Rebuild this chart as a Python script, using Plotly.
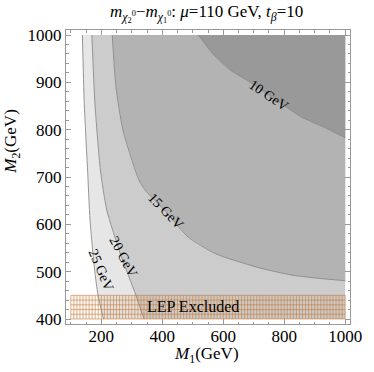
import numpy as np
import plotly.graph_objects as go

# ---- data (M1, M2 in GeV) ----
c25_m1 = [138, 144, 155, 163, 178, 189, 207]
c25_m2 = [1000, 856, 715, 609, 504, 451, 400]
c20_m1 = [169, 179, 197, 218, 264, 313, 340]
c20_m2 = [1000, 856, 715, 630, 535, 451, 400]
c15_m1 = [236, 248, 271, 323, 343, 413, 485, 571, 612, 719, 823, 927, 1000]
c15_m2 = [1000, 891, 799, 694, 673, 626, 573, 539, 529, 508, 493, 485, 481]
c10_m1 = [518, 565, 623, 686, 750, 813, 855, 928, 1000]
c10_m2 = [1000, 961, 926, 901, 873, 845, 827, 806, 783]

levels = ["25 GeV", "20 GeV", "15 GeV", "10 GeV"]
label_m1 = [198, 271, 413, 750]
label_m2 = [504, 531, 628, 873]
label_angle = [67, 62, 46, 34]

x_ticks = [200, 400, 600, 800, 1000]
y_ticks = [400, 500, 600, 700, 800, 900, 1000]

lep_m1 = [100, 1000]
lep_m2 = [400, 450]
lep_mesh = 10

M1_RANGE = [100, 1000]
M2_RANGE = [400, 1000]

curves = [(c25_m1, c25_m2), (c20_m1, c20_m2), (c15_m1, c15_m2), (c10_m1, c10_m2)]
fills = ["#e6e6e6", "#cccccc", "#b3b3b3", "#999999"]

SERIF = "Liberation Serif"
fig = go.Figure()

for (m1, m2), col in zip(curves, fills):
    px = list(m1) + [M1_RANGE[1], M1_RANGE[1]]
    py = list(m2) + [min(m2), M2_RANGE[1]]
    fig.add_trace(go.Scatter(x=px, y=py, fill="toself", fillcolor=col,
                             mode="none", hoverinfo="skip", showlegend=False))

for m1, m2 in curves:
    fig.add_trace(go.Scatter(x=m1, y=m2, mode="lines",
                             line=dict(color="#8a8a8a", width=0.9, shape="spline", smoothing=0.6),
                             hoverinfo="skip", showlegend=False))

# LEP band
bx = [lep_m1[0], lep_m1[1], lep_m1[1], lep_m1[0], lep_m1[0]]
by = [lep_m2[0], lep_m2[0], lep_m2[1], lep_m2[1], lep_m2[0]]
fig.add_trace(go.Scatter(x=bx, y=by, fill="toself", fillcolor="rgba(235,175,125,0.10)",
                         mode="none", hoverinfo="skip", showlegend=False))
gx, gy = [], []
for v in np.arange(lep_m1[0], lep_m1[1] + 0.1, lep_mesh):
    gx += [v, v, None]
    gy += [lep_m2[0], lep_m2[1], None]
for h in np.arange(lep_m2[0], lep_m2[1] + 0.1, lep_mesh):
    gx += [lep_m1[0], lep_m1[1], None]
    gy += [h, h, None]
fig.add_trace(go.Scatter(x=gx, y=gy, mode="lines",
                         line=dict(color="rgba(190,115,50,0.75)", width=0.7),
                         hoverinfo="skip", showlegend=False))

annotations = []
for t, x, y, a in zip(levels, label_m1, label_m2, label_angle):
    annotations.append(dict(x=x, y=y, xref="x", yref="y", text=t, showarrow=False,
                            xanchor="center", yanchor="middle",
                            textangle=a, font=dict(family=SERIF, size=14, color="black")))
annotations.append(dict(x=500, y=427, xref="x", yref="y", text="LEP Excluded", showarrow=False,
                        xanchor="center", yanchor="middle",
                        font=dict(family=SERIF, size=16, color="black")))
annotations.append(dict(x=0.495, y=1.055, xref="paper", yref="paper", showarrow=False,
                        xanchor="center", yanchor="middle",
                        text="<i>m</i><sub><i>χ</i><sub>2</sub><sup>0</sup></sub>−<i>m</i><sub><i>χ</i><sub>1</sub><sup>0</sup></sub>: <i>μ</i>=110 GeV, <i>t</i><sub><i>β</i></sub>=10",
                        font=dict(family=SERIF, size=17, color="black")))
annotations.append(dict(x=0.495, y=-0.106, xref="paper", yref="paper", showarrow=False,
                        xanchor="center", yanchor="middle",
                        text="<i>M</i><sub>1</sub>(GeV)", font=dict(family=SERIF, size=17, color="black")))
annotations.append(dict(x=-0.19, y=0.62, xref="paper", yref="paper", showarrow=False, textangle=-90,
                        xanchor="center", yanchor="middle",
                        text="<i>M</i><sub>2</sub>(GeV)", font=dict(family=SERIF, size=17, color="black")))

pad_x = 5 / 0.31667
pad_y = 5 / 0.47333
axis_common = dict(showline=True, linecolor="#999999", linewidth=1, mirror="allticks",
                   ticks="inside", ticklen=5, tickcolor="#999999", showgrid=False, zeroline=False,
                   tickfont=dict(family=SERIF, size=17, color="black"))
fig.update_layout(
    width=374, height=372,
    margin=dict(l=66, r=13, t=30, b=48),
    paper_bgcolor="white", plot_bgcolor="white",
    xaxis=dict(range=[M1_RANGE[0] - pad_x, M1_RANGE[1] + pad_x], tickvals=x_ticks,
               ticklabelstandoff=-3,
               minor=dict(dtick=50, tick0=0, ticks="inside", ticklen=2.5, tickcolor="#999999"),
               **axis_common),
    yaxis=dict(range=[M2_RANGE[0] - pad_y, M2_RANGE[1] + pad_y], tickvals=y_ticks,
               minor=dict(dtick=20, tick0=0, ticks="inside", ticklen=2.5, tickcolor="#999999"),
               **axis_common),
    annotations=annotations,
)
fig.write_html("out.html", config={"displayModeBar": False},
               post_script="document.body.style.margin='0';")
